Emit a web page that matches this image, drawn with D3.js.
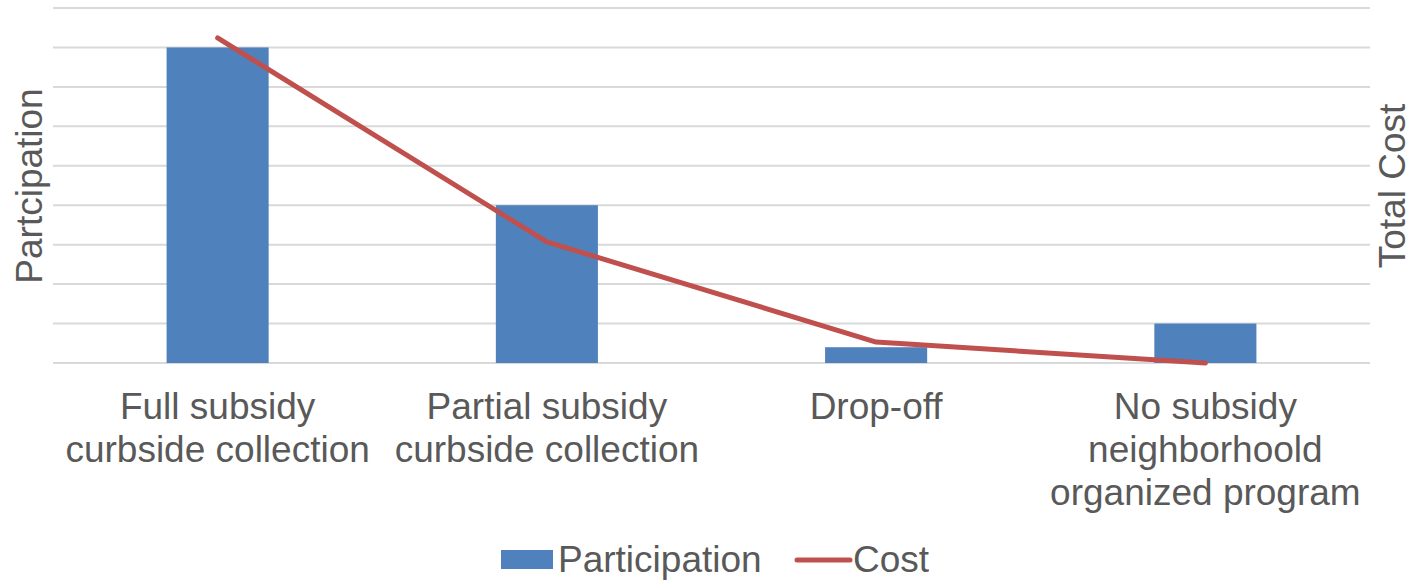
<!DOCTYPE html>
<html>
<head>
<meta charset="utf-8">
<script src="https://cdn.jsdelivr.net/npm/d3@7"></script>
<style>
  html, body { margin: 0; padding: 0; background: #fff; }
  svg { display: block; font-family: "Liberation Sans", Arial, sans-serif; }
</style>
</head>
<body>
<svg id="chart" width="1412" height="580"></svg>
<script>
const categories = [
  ["Full subsidy", "curbside collection"],
  ["Partial subsidy", "curbside collection"],
  ["Drop-off"],
  ["No subsidy", "neighborhoold", "organized program"]
];
const participation = [8, 4, 0.4, 1];
const cost = [8.24, 3.07, 0.53, 0];
const gridTicks = [0, 1, 2, 3, 4, 5, 6, 7, 8, 9];

const svg = d3.select("#chart");
const plotLeft = 53, plotRight = 1370, plotTop = 8, plotBottom = 363;
const textColor = "#595959";
const barColor = "#4F81BD";
const lineColor = "#C0504D";

const x = d3.scaleBand().domain(d3.range(categories.length)).range([plotLeft, plotRight]).paddingInner(0.69).paddingOuter(0.345);
const y = d3.scaleLinear().domain([0, 9]).range([plotBottom, plotTop]);
const y2 = d3.scaleLinear().domain([0, 9]).range([plotBottom, plotTop]);

// gridlines
svg.append("g").selectAll("line").data(gridTicks).join("line")
  .attr("x1", plotLeft).attr("x2", plotRight)
  .attr("y1", d => y(d)).attr("y2", d => y(d))
  .attr("stroke", "#D9D9D9").attr("stroke-width", 2);

// bars
svg.append("g").selectAll("rect").data(participation).join("rect")
  .attr("x", (d, i) => x(i))
  .attr("width", x.bandwidth())
  .attr("y", d => y(d))
  .attr("height", d => y(0) - y(d))
  .attr("fill", barColor);

// cost line
const cx = i => x(i) + x.bandwidth() / 2;
svg.append("path").datum(cost)
  .attr("fill", "none").attr("stroke", lineColor).attr("stroke-width", 5)
  .attr("stroke-linejoin", "round").attr("stroke-linecap", "round")
  .attr("d", d3.line().x((d, i) => cx(i)).y(d => y2(d)));

// category labels
const lab = svg.append("g").attr("font-size", 37).attr("fill", textColor).attr("text-anchor", "middle");
categories.forEach((lines, i) => {
  const t = lab.append("text").attr("x", cx(i)).attr("y", 419);
  lines.forEach((ln, j) => {
    t.append("tspan").attr("x", cx(i)).attr("dy", j === 0 ? 0 : 43).text(ln);
  });
});

// axis titles
svg.append("text").attr("transform", "translate(42,186) rotate(-90)")
  .attr("text-anchor", "middle").attr("font-size", 37).attr("fill", textColor).text("Partcipation");
svg.append("text").attr("transform", "translate(1405,186) rotate(-90)")
  .attr("text-anchor", "middle").attr("font-size", 37).attr("fill", textColor).text("Total Cost");

// legend
const lg = svg.append("g");
lg.append("rect").attr("x", 501).attr("y", 550).attr("width", 52).attr("height", 19).attr("fill", barColor);
lg.append("text").attr("x", 558).attr("y", 572).attr("font-size", 37).attr("fill", textColor).text("Participation");
lg.append("line").attr("x1", 797).attr("x2", 850).attr("y1", 560).attr("y2", 560)
  .attr("stroke", lineColor).attr("stroke-width", 5).attr("stroke-linecap", "round");
lg.append("text").attr("x", 853).attr("y", 572).attr("font-size", 37).attr("fill", textColor).text("Cost");
</script>
</body>
</html>
